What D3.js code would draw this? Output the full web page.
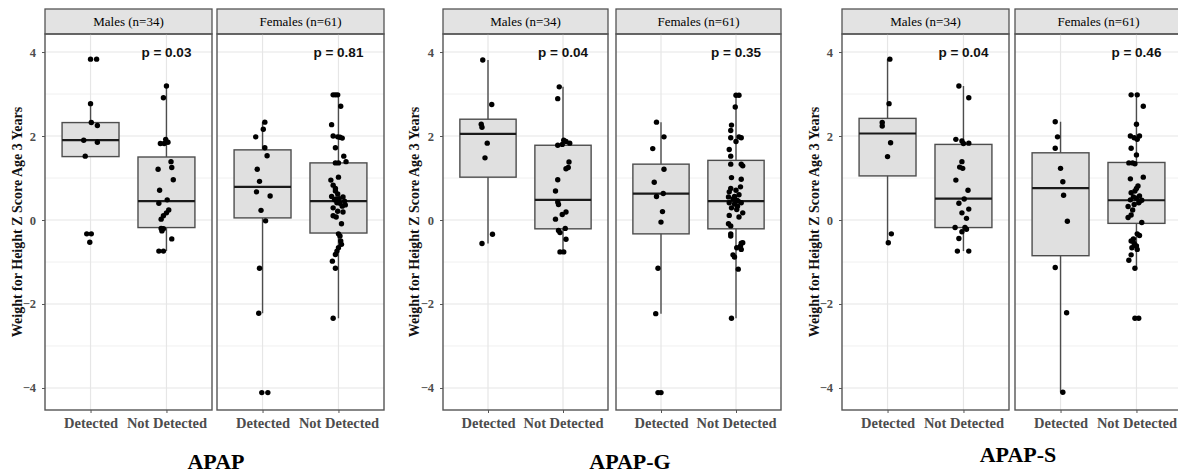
<!DOCTYPE html>
<html>
<head>
<meta charset="utf-8">
<script src="https://cdn.jsdelivr.net/npm/d3@7"></script>
<style>
  body { margin: 0; background: #fff; }
  svg { display: block; }
</style>
</head>
<body>
<div id="containerDiv"></div>
<script>
// labels
const panelTitles = ["APAP", "APAP-G", "APAP-S"];
const facetLabels = ["Males (n=34)", "Females (n=61)"];
const groupLabels = ["Detected", "Not Detected"];
const yTickValues = [-4, -2, 0, 2, 4];
const yMinorValues = [-3, -1, 1, 3];
const yTitle = "Weight for Height Z Score Age 3 Years";
const pLabels = [["p = 0.03", "p = 0.81"], ["p = 0.04", "p = 0.35"], ["p = 0.04", "p = 0.46"]];

// box stats: [lower whisker, q1, median, q3, upper whisker]
// order: Males Detected, Males Not Detected, Females Detected, Females Not Detected
const boxAPAP = [
  [1.51, 1.51, 1.90, 2.32, 2.77],
  [-0.74, -0.18, 0.45, 1.50, 3.19],
  [-2.22, 0.05, 0.79, 1.67, 2.33],
  [-2.34, -0.31, 0.45, 1.36, 2.98]
];
const boxAPAPG = [
  [-0.56, 1.02, 2.05, 2.40, 3.81],
  [-0.76, -0.21, 0.48, 1.78, 3.17],
  [-2.23, -0.33, 0.63, 1.33, 2.33],
  [-2.34, -0.21, 0.45, 1.42, 2.97]
];
const boxAPAPS = [
  [-0.54, 1.05, 2.06, 2.42, 3.83],
  [-0.74, -0.18, 0.51, 1.80, 3.19],
  [-4.10, -0.85, 0.76, 1.60, 2.34],
  [-1.15, -0.08, 0.47, 1.37, 2.98]
];

// points: [z score, jitter as share of the category step]
const apapMaleDet = [[3.83, 0.00], [3.83, 0.08], [2.77, 0.00], [2.32, 0.01], [2.25, 0.09], [1.90, -0.09],
  [1.85, 0.09], [1.52, -0.07], [-0.33, -0.05], [-0.33, 0.01], [-0.53, -0.01]];
const apapMaleNot = [[3.19, 0.00], [2.91, -0.04], [1.82, -0.08], [1.82, -0.03], [1.85, 0.02], [1.92, -0.01],
  [1.39, 0.06], [1.21, -0.11], [1.25, 0.07], [0.96, 0.09], [0.71, -0.09], [0.48, 0.01], [0.40, -0.10],
  [0.24, 0.03], [0.17, 0.00], [0.10, -0.04], [0.02, -0.07], [-0.20, -0.07], [-0.21, -0.04], [-0.26, -0.06],
  [-0.45, 0.07], [-0.74, -0.10], [-0.74, -0.04]];
const apapFemDet = [[2.33, 0.03], [2.16, 0.01], [1.98, -0.09], [1.72, 0.03], [1.53, 0.06], [1.21, -0.07],
  [0.92, -0.04], [0.67, -0.08], [0.57, 0.10], [0.23, -0.02], [-0.02, 0.04], [-1.15, -0.04], [-2.22, -0.05],
  [-4.11, -0.01], [-4.11, 0.07]];
const apapFemNot = [[2.98, -0.07], [2.98, -0.04], [2.98, -0.01], [2.71, 0.03], [2.27, -0.09], [2.00, -0.07],
  [1.98, -0.01], [1.95, 0.05], [1.97, 0.02], [1.72, -0.04], [1.52, 0.07], [1.36, -0.04], [1.36, 0.00],
  [1.39, 0.10], [0.95, -0.10], [1.02, 0.00], [0.83, -0.07], [0.75, -0.04], [0.69, -0.04], [0.56, -0.09],
  [0.55, 0.06], [0.51, 0.01], [0.45, 0.08], [0.48, -0.05], [0.41, -0.02], [0.36, 0.09], [0.29, -0.07],
  [0.21, -0.01], [0.19, 0.06], [0.10, -0.07], [0.07, -0.03], [-0.09, 0.04], [-0.33, 0.00], [-0.38, 0.02],
  [-0.50, 0.03], [-0.58, 0.04], [-0.66, 0.00], [-0.74, -0.02], [-0.82, -0.04], [-0.98, -0.08], [-1.15, -0.04],
  [-2.34, -0.07], [0.40, 0.02], [0.62, -0.01], [0.33, 0.05], [0.50, -0.03]];

const apapgMaleDet = [[3.81, -0.07], [2.75, 0.05], [2.28, -0.09], [2.21, -0.08], [1.83, -0.01], [1.48, -0.04],
  [-0.34, 0.06], [-0.56, -0.08]];
const apapgMaleNot = [[3.17, -0.05], [2.89, -0.07], [1.78, -0.07], [1.90, 0.01], [1.87, 0.04], [1.83, 0.09],
  [1.80, -0.01], [1.38, 0.08], [1.22, 0.04], [1.25, 0.07], [0.96, -0.07], [0.69, -0.10], [0.43, -0.07],
  [0.37, -0.06], [0.13, -0.01], [0.19, 0.04], [0.02, -0.10], [-0.25, -0.06], [-0.30, -0.04], [-0.20, 0.03],
  [-0.46, 0.04], [-0.76, -0.04], [-0.76, 0.01]];
const apapgFemDet = [[2.33, -0.06], [1.98, 0.04], [1.70, -0.11], [1.21, 0.04], [0.90, -0.09], [0.56, -0.06],
  [0.63, 0.03], [0.20, 0.02], [-0.05, 0.00], [-1.15, -0.04], [-2.23, -0.07], [-4.11, -0.04], [-4.11, 0.00]];
const apapgFemNot = [[2.97, 0.00], [2.97, 0.04], [2.69, -0.01], [2.26, -0.06], [2.13, -0.07], [1.96, -0.07],
  [1.98, 0.04], [1.87, 0.00], [1.96, 0.07], [1.68, -0.09], [1.52, -0.07], [1.33, -0.07], [1.33, 0.07],
  [1.29, 0.09], [1.01, -0.06], [0.97, 0.07], [0.75, -0.07], [0.67, -0.09], [0.79, 0.06], [0.71, 0.00],
  [0.55, -0.10], [0.56, -0.02], [0.47, 0.01], [0.41, 0.07], [0.33, 0.02], [0.41, -0.09], [0.29, -0.06],
  [0.17, 0.09], [0.07, 0.04], [0.11, -0.09], [-0.09, -0.10], [-0.14, -0.07], [-0.33, -0.07], [-0.38, -0.07],
  [-0.54, 0.09], [-0.62, 0.06], [-0.70, 0.07], [-0.66, 0.01], [-0.83, -0.04], [-0.88, -0.02], [-1.17, 0.03],
  [-2.34, -0.06], [0.50, -0.04], [0.45, 0.03], [0.38, -0.02], [0.60, 0.04], [-0.55, 0.07], [0.25, 0.01]];

const apapsMaleDet = [[3.83, 0.03], [2.77, 0.02], [2.32, -0.07], [2.24, -0.07], [1.84, 0.04], [1.51, 0.00],
  [-0.33, 0.05], [-0.54, 0.01]];
const apapsMaleNot = [[3.19, -0.06], [2.91, 0.07], [1.92, -0.10], [1.88, -0.02], [1.82, 0.00], [1.83, 0.07],
  [1.39, -0.02], [1.26, -0.05], [1.23, -0.01], [0.95, -0.10], [0.71, 0.06], [0.50, 0.01], [0.40, -0.06],
  [0.26, 0.07], [0.17, -0.02], [0.04, 0.04], [-0.18, -0.11], [-0.18, 0.02], [-0.22, 0.04], [-0.28, -0.02],
  [-0.44, -0.06], [-0.74, -0.08], [-0.74, 0.07]];
const apapsFemDet = [[2.34, -0.07], [1.98, -0.04], [1.71, -0.07], [1.23, 0.00], [0.91, 0.03], [0.59, 0.04],
  [-0.03, 0.09], [-1.13, -0.07], [-2.21, 0.08], [-4.10, 0.03]];
const apapsFemNot = [[2.98, -0.07], [2.98, 0.01], [2.71, 0.09], [2.28, 0.00], [2.00, -0.08], [1.96, -0.03],
  [1.92, 0.01], [2.00, 0.04], [1.71, -0.07], [1.55, 0.00], [1.36, -0.10], [1.36, -0.05], [1.34, -0.02],
  [1.02, 0.09], [0.98, -0.08], [0.81, 0.02], [0.75, 0.00], [0.69, -0.02], [0.65, -0.07], [0.57, 0.04],
  [0.52, 0.00], [0.47, 0.07], [0.41, 0.03], [0.48, -0.08], [0.37, -0.03], [0.32, -0.11], [0.24, -0.05],
  [0.12, -0.07], [0.06, -0.11], [-0.06, 0.07], [-0.33, 0.01], [-0.37, 0.04], [-0.50, -0.07], [-0.56, -0.03],
  [-0.62, 0.00], [-0.66, -0.06], [-0.70, 0.01], [-0.83, -0.07], [-0.96, -0.10], [-1.15, -0.02], [-2.34, -0.02],
  [-2.34, 0.03], [0.44, 0.04], [-0.60, -0.02], [0.55, -0.04], [-0.45, -0.04]];

const boxSets = [boxAPAP, boxAPAPG, boxAPAPS];
const pointSets = [
  [apapMaleDet, apapMaleNot, apapFemDet, apapFemNot],
  [apapgMaleDet, apapgMaleNot, apapgFemDet, apapgFemNot],
  [apapsMaleDet, apapsMaleNot, apapsFemDet, apapsFemNot]
];

// layout of the three sub figures
const layout = [
  { x0: 45, w: 167, gap: 5, yTitleX: 17, titleX: 216, titleY: 469 },
  { x0: 443, w: 165, gap: 8, yTitleX: 414, titleX: 630, titleY: 469 },
  { x0: 842, w: 167, gap: 6, yTitleX: 814, titleX: 1018, titleY: 462 }
];
const stripTop = 9, plotTop = 34, plotBottom = 410;
const serif = "'Liberation Serif', 'Times New Roman', serif";
const sans = "'Liberation Sans', Arial, sans-serif";

const svg = d3.select("#containerDiv")
  .append("svg")
  .attr("width", 1178)
  .attr("height", 473);

const plotH = plotBottom - plotTop;
const yScale = d3.scaleLinear().domain([-4.524, 4.429]).range([plotH, 0]);

panelTitles.forEach((title, pi) => {
  const L = layout[pi];

  facetLabels.forEach((facet, fi) => {
    const fx = L.x0 + fi * (L.w + L.gap);
    const xScale = d3.scalePoint().domain(groupLabels).range([0, L.w]).padding(0.6);
    const step = xScale.step();

    // strip
    svg.append("rect")
      .attr("x", fx).attr("y", stripTop)
      .attr("width", L.w).attr("height", plotTop - stripTop)
      .attr("fill", "#e3e3e3").attr("stroke", "#555").attr("stroke-width", 1.3);
    svg.append("text")
      .attr("x", fx + L.w / 2).attr("y", (stripTop + plotTop) / 2)
      .attr("dy", "0.35em").attr("text-anchor", "middle")
      .style("font-family", serif).style("font-size", "13px").attr("fill", "#000")
      .text(facet);

    const g = svg.append("g").attr("transform", "translate(" + fx + "," + plotTop + ")");

    // grid
    g.selectAll(".minor").data(yMinorValues).enter().append("line")
      .attr("x1", 0).attr("x2", L.w)
      .attr("y1", (d) => yScale(d)).attr("y2", (d) => yScale(d))
      .attr("stroke", "#eeeeee").attr("stroke-width", 0.9);
    g.selectAll(".major").data(yTickValues).enter().append("line")
      .attr("x1", 0).attr("x2", L.w)
      .attr("y1", (d) => yScale(d)).attr("y2", (d) => yScale(d))
      .attr("stroke", "#e6e6e6").attr("stroke-width", 1.2);
    g.selectAll(".vgrid").data(groupLabels).enter().append("line")
      .attr("x1", (d) => xScale(d)).attr("x2", (d) => xScale(d))
      .attr("y1", 0).attr("y2", plotH)
      .attr("stroke", "#e6e6e6").attr("stroke-width", 1.2);

    // boxes and points
    groupLabels.forEach((grp, gi) => {
      const b = boxSets[pi][fi * 2 + gi];
      const cx = xScale(grp);
      const bw = step * 0.75;
      g.append("line")
        .attr("x1", cx).attr("x2", cx)
        .attr("y1", yScale(b[4])).attr("y2", yScale(b[0]))
        .attr("stroke", "#4d4d4d").attr("stroke-width", 1.4);
      g.append("rect")
        .attr("x", cx - bw / 2).attr("y", yScale(b[3]))
        .attr("width", bw).attr("height", yScale(b[1]) - yScale(b[3]))
        .attr("fill", "#e0e0e0").attr("stroke", "#4d4d4d").attr("stroke-width", 1.4);
      g.append("line")
        .attr("x1", cx - bw / 2).attr("x2", cx + bw / 2)
        .attr("y1", yScale(b[2])).attr("y2", yScale(b[2]))
        .attr("stroke", "#1a1a1a").attr("stroke-width", 2.2);

      g.selectAll(".pt" + gi).data(pointSets[pi][fi * 2 + gi]).enter().append("circle")
        .attr("cx", (d) => cx + d[1] * step)
        .attr("cy", (d) => yScale(d[0]))
        .attr("r", 2.7)
        .attr("fill", "#000");
    });

    // p value
    g.append("text")
      .attr("x", xScale(groupLabels[1])).attr("y", yScale(4))
      .attr("dy", "0.35em").attr("text-anchor", "middle")
      .style("font-family", sans).style("font-weight", "bold").style("font-size", "13.5px")
      .attr("fill", "#111")
      .text(pLabels[pi][fi]);

    // panel border
    g.append("rect")
      .attr("width", L.w).attr("height", plotH)
      .attr("fill", "none").attr("stroke", "#555").attr("stroke-width", 1.4);

    // x axis
    const gx = g.append("g")
      .attr("transform", "translate(0," + plotH + ")")
      .call(d3.axisBottom(xScale).tickSize(3).tickPadding(4.5));
    gx.select(".domain").remove();
    gx.selectAll(".tick line").attr("stroke", "#555");
    gx.selectAll(".tick text")
      .style("font-family", serif).style("font-weight", "bold").style("font-size", "14.5px")
      .attr("fill", "#4d4d4d");

    // y axis only on the first facet
    if (fi === 0) {
      const gy = g.append("g")
        .call(d3.axisLeft(yScale).tickValues(yTickValues).tickSize(3).tickPadding(6).tickFormat(d3.format("d")));
      gy.select(".domain").remove();
      gy.selectAll(".tick line").attr("stroke", "#555");
      gy.selectAll(".tick text")
        .style("font-family", serif).style("font-weight", "bold").style("font-size", "12.5px")
        .attr("fill", "#4d4d4d");
    }
  });

  // y axis title
  svg.append("text")
    .attr("transform", "translate(" + L.yTitleX + "," + (plotTop + plotBottom) / 2 + ") rotate(-90)")
    .attr("dy", "0.35em").attr("text-anchor", "middle")
    .style("font-family", serif).style("font-weight", "bold").style("font-size", "14px")
    .attr("fill", "#111")
    .text(yTitle);

  // sub figure title
  svg.append("text")
    .attr("x", L.titleX).attr("y", L.titleY)
    .attr("text-anchor", "middle")
    .style("font-family", serif).style("font-weight", "bold").style("font-size", "22px")
    .attr("fill", "#000")
    .text(title);
});
</script>
</body>
</html>
